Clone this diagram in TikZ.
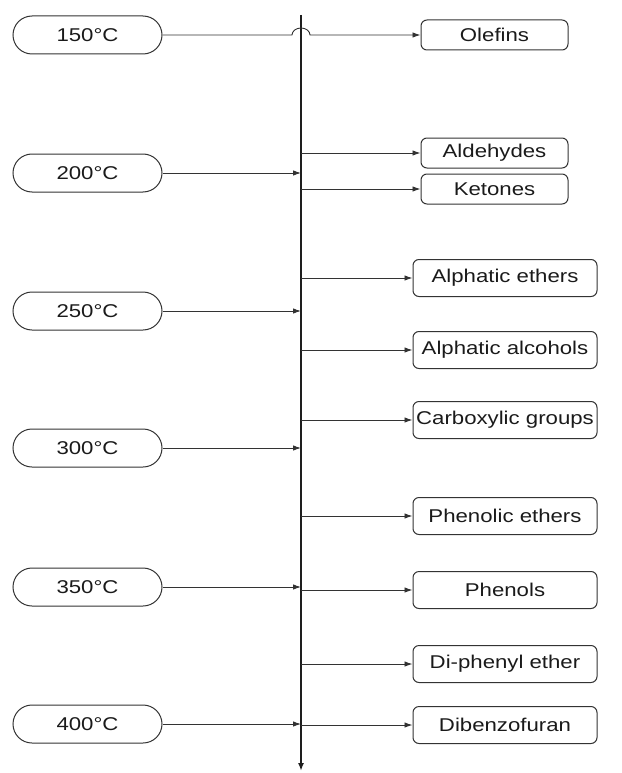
\documentclass[tikz,border=0pt]{standalone}
\usepackage{fontspec}
\setmainfont{Liberation Sans}[FakeStretch=1.2]
\usetikzlibrary{arrows.meta,shapes.misc}
\definecolor{linegray}{HTML}{333333}
\definecolor{axisgray}{HTML}{1E1E1E}
\definecolor{textgray}{HTML}{1A1A1A}
\begin{document}
\begin{tikzpicture}[x=1pt,y=-1pt,
  lbl/.style={font=\fontsize{18.5}{20}\selectfont, text=textgray},
  temp/.style={lbl, draw=linegray, line width=1pt, rounded rectangle,
    minimum width=149pt, minimum height=38pt, inner sep=0pt},
  prod/.style={lbl, draw=linegray, line width=1pt, rounded corners=6pt,
    minimum width=184pt, minimum height=37pt, inner sep=0pt},
  smallprod/.style={prod, minimum width=147pt, minimum height=30pt},
  conn/.style={draw=linegray, line width=0.9pt, -{Latex[length=8pt,width=5.5pt]}},
  axisline/.style={draw=axisgray, line width=1.6pt, -{Latex[length=8pt,width=6pt]}}
]
\useasboundingbox (0,0) rectangle (621,773);

% axis
\coordinate (axtop) at (301,15);
\coordinate (axbot) at (301,771);
\draw[axisline] (axtop) -- (axbot);

% temperatures
\node[temp] (t150) at (87.5,35) {150°C};
\node[temp] (t200) at (87.5,173) {200°C};
\node[temp] (t250) at (87.5,311) {250°C};
\node[temp] (t300) at (87.5,448) {300°C};
\node[temp] (t350) at (87.5,587) {350°C};
\node[temp] (t400) at (87.5,724) {400°C};

% products
\node[smallprod] (olef) at (494.5,35) {Olefins};
\node[smallprod] (alde) at (494.5,153) {Aldehydes};
\node[smallprod] (keto) at (494.5,189) {Ketones};
\node[prod] (aeth) at (505,278) {Alphatic ethers};
\node[prod] (aalc) at (505,350) {Alphatic alcohols};
\node[prod] (carb) at (505,420) {Carboxylic groups};
\node[prod] (peth) at (505,516) {Phenolic ethers};
\node[prod] (phen) at (505,590) {Phenols};
\node[prod] (dphe) at (505,664) {Di-phenyl ether};
\node[prod] (dibz) at (505,725) {Dibenzofuran};

% 150 jumps over the axis
\coordinate (bumpL) at (292,35);
\draw[conn] (t150.east) -- (bumpL)
  arc[start angle=180, end angle=0, x radius=9pt, y radius=7pt] -- (olef.west);

% temperature arrows into axis
\foreach \t in {t200,t250,t300,t350,t400}
  \draw[conn] (\t.east) -- (\t.east -| axtop);

% product arrows out of axis
\foreach \p in {alde,keto,aeth,aalc,carb,peth,phen,dphe,dibz}
  \draw[conn] (\p.west -| axtop) -- (\p.west);
\end{tikzpicture}
\end{document}
